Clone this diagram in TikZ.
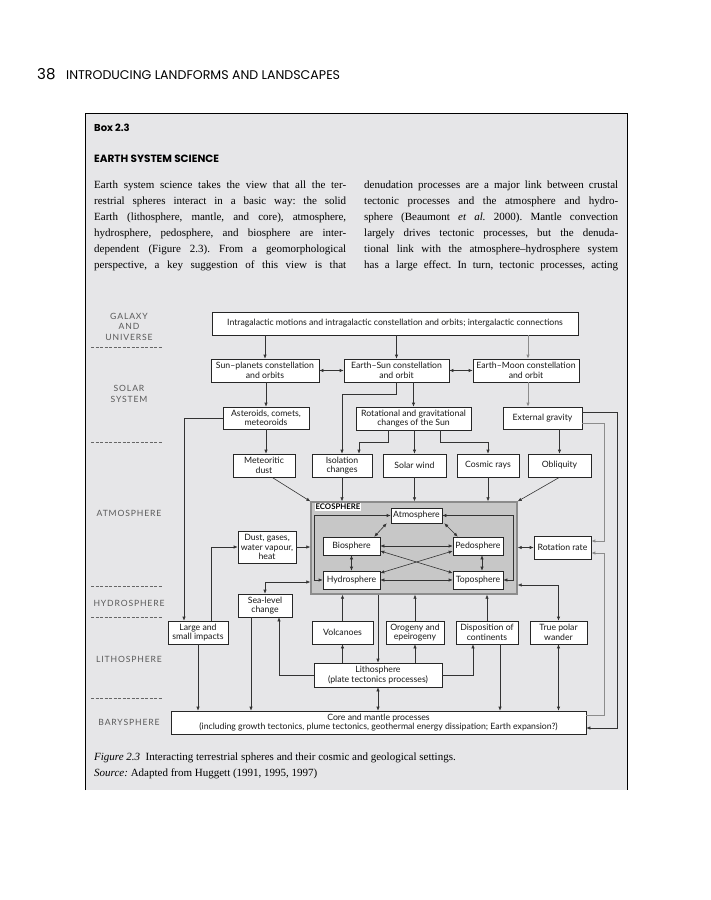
\documentclass[tikz,border=0pt]{standalone}
\usepackage{fontspec}
\setmainfont{Liberation Serif}
\newfontfamily\dgm{Lato}[Ligatures=TeX]
\newfontfamily\dgmsp{Lato}[LetterSpace=10]
\newfontfamily\hdr{Poppins}
\usetikzlibrary{arrows.meta,calc}
\definecolor{boxgray}{HTML}{E6E6E8}
\frenchspacing
\tikzset{
 bx/.style={draw=black!85, fill=white, line width=0.6pt, inner sep=1pt, align=center, font=\dgm\fontsize{8.7}{9.5}\selectfont, text=black!90},
 ln/.style={draw=black!80, line width=0.6pt},
 gln/.style={draw=black!45, line width=0.9pt},
 ar/.style={-{Latex[length=4pt,width=3.4pt]}},
 dar/.style={{Latex[length=4pt,width=3.4pt]}-{Latex[length=4pt,width=3.4pt]}},
 lab/.style={font=\dgmsp\fontsize{8.6}{10.5}\selectfont, text=black!65, align=center},
 dsh/.style={draw=black!60, dash pattern=on 3pt off 1.5pt, line width=0.6pt},
 body/.style={anchor=north west, inner sep=0, font=\fontsize{11}{16}\selectfont}
}
\begin{document}
\begin{tikzpicture}[x=1pt,y=-1pt]
\useasboundingbox (0,0) rectangle (710,900);
\fill[white] (0,0) rectangle (710,900);
% page header
\node[anchor=base west, inner sep=0, font=\hdr\fontsize{15}{15}\selectfont] (pnum) at (37,79) {38};
\node[anchor=base west, inner sep=0, font=\hdr\fontsize{12.6}{13}\selectfont] (phead) at (66,79) {INTRODUCING LANDFORMS AND LANDSCAPES};
% box
\fill[boxgray] (85,113) rectangle (627,790);
\draw[line width=1pt] (85,790) -- (85,113) -- (627,113) -- (627,790);
\node[anchor=base west, inner sep=0, font=\hdr\bfseries\fontsize{10}{11}\selectfont] (boxno) at (94,131) {Box 2.3};
\node[anchor=base west, inner sep=0, font=\hdr\bfseries\fontsize{10.5}{11}\selectfont] (boxtitle) at (94,162) {EARTH SYSTEM SCIENCE};
% body text
\node[body] (colL) at (94,181) {\parbox{252pt}{%
\makebox[252pt][s]{Earth system science takes the view that all the ter-}\\
\makebox[252pt][s]{restrial spheres interact in a basic way: the solid}\\
\makebox[252pt][s]{Earth (lithosphere, mantle, and core), atmosphere,}\\
\makebox[252pt][s]{hydrosphere, pedosphere, and biosphere are inter-}\\
\makebox[252pt][s]{dependent (Figure 2.3). From a geomorphological}\\
\makebox[252pt][s]{perspective, a key suggestion of this view is that}}};
\node[body] (colR) at (364,181) {\parbox{254pt}{%
\makebox[254pt][s]{denudation processes are a major link between crustal}\\
\makebox[254pt][s]{tectonic processes and the atmosphere and hydro-}\\
\makebox[254pt][s]{sphere (Beaumont \textit{et al.} 2000). Mantle convection}\\
\makebox[254pt][s]{largely drives tectonic processes, but the denuda-}\\
\makebox[254pt][s]{tional link with the atmosphere–hydrosphere system}\\
\makebox[254pt][s]{has a large effect. In turn, tectonic processes, acting}}};
% left labels
\node[lab] (lgal) at (129,326.5) {GALAXY\\AND\\UNIVERSE};
\node[lab] (lsol) at (129,394) {SOLAR\\SYSTEM};
\node[lab] (latm) at (129,513) {ATMOSPHERE};
\node[lab] (lhyd) at (129,603) {HYDROSPHERE};
\node[lab] (llit) at (129,659) {LITHOSPHERE};
\node[lab] (lbar) at (129,722) {BARYSPHERE};
\foreach \yy in {347,442,586,617,698} \draw[dsh] (91,\yy) -- (163,\yy);
% boxes
\node[bx, minimum width=366, minimum height=23] (intra) at (395,323.5) {Intragalactic motions and intragalactic constellation and orbits; intergalactic connections};
\node[bx, minimum width=108, minimum height=23] (sunp) at (265,370.5) {Sun–planets constellation\\and orbits};
\node[bx, minimum width=105, minimum height=23] (esun) at (396.5,370.5) {Earth–Sun constellation\\and orbit};
\node[bx, minimum width=106, minimum height=23] (emoon) at (526,370.5) {Earth–Moon constellation\\and orbit};
\node[bx, minimum width=86, minimum height=22] (aster) at (266,418) {Asteroids, comets,\\meteoroids};
\node[bx, minimum width=115, minimum height=23] (rot) at (413.5,418.5) {Rotational and gravitational\\changes of the Sun};
\node[bx, minimum width=79, minimum height=22] (extg) at (542.5,418) {External gravity};
\node[bx, minimum width=62, minimum height=23] (met) at (264,465.5) {Meteoritic\\dust};
\node[bx, minimum width=60, minimum height=23] (iso) at (342,465.5) {Isolation\\changes};
\node[bx, minimum width=63, minimum height=23] (swind) at (414.5,465.5) {Solar wind};
\node[bx, minimum width=62, minimum height=23] (cosmic) at (488,465.5) {Cosmic rays};
\node[bx, minimum width=63, minimum height=23] (obl) at (559.5,465.5) {Obliquity};
% ecosphere
\node[draw=black!45, line width=1.3pt, fill=black!22, minimum width=206, minimum height=92] (eco) at (414,548) {};
\node[anchor=north west, fill=white, inner sep=1pt, font=\dgm\bfseries\fontsize{7.8}{8}\selectfont] (ecol) at ([xshift=4,yshift=-1.5]eco.north west) {ECOSPHERE};
\node[bx, minimum width=51, minimum height=15] (atm) at (416.5,515.5) {Atmosphere};
\node[bx, minimum width=57, minimum height=18] (bio) at (351.5,546) {Biosphere};
\node[bx, minimum width=50, minimum height=18] (pedo) at (478,546) {Pedosphere};
\node[bx, minimum width=57, minimum height=18] (hydro) at (351.5,580) {Hydrosphere};
\node[bx, minimum width=50, minimum height=18] (topo) at (478,580) {Toposphere};
% lower boxes
\node[bx, minimum width=58, minimum height=32] (dust) at (267,547) {Dust, gases,\\water vapour,\\heat};
\node[bx, minimum width=57, minimum height=23] (rotr) at (562.5,547.5) {Rotation rate};
\node[bx, minimum width=54, minimum height=23] (sea) at (265,605.5) {Sea-level\\change};
\node[bx, minimum width=60, minimum height=23] (large) at (198,632.5) {Large and\\small impacts};
\node[bx, minimum width=61, minimum height=23] (volc) at (342.5,632.5) {Volcanoes};
\node[bx, minimum width=58, minimum height=23] (orog) at (415,632.5) {Orogeny and\\epeirogeny};
\node[bx, minimum width=62, minimum height=23] (disp) at (487,632.5) {Disposition of\\continents};
\node[bx, minimum width=57, minimum height=23] (tpw) at (558.5,632.5) {True polar\\wander};
\node[bx, minimum width=128, minimum height=24] (litho) at (378,675) {Lithosphere\\(plate tectonics processes)};
\node[bx, minimum width=415, minimum height=23] (core) at (378.5,722.5) {Core and mantle processes\\(including growth tectonics, plume tectonics, geothermal energy dissipation; Earth expansion?)};
% connectors: top levels
\draw[ln,ar] (sunp.north |- intra.south) -- (sunp.north);
\draw[ln,ar] (esun.north |- intra.south) -- (esun.north);
\draw[gln,ar] ([xshift=2]emoon.north |- intra.south) -- ([xshift=2]emoon.north);
\draw[ln,dar] (sunp.east) -- (esun.west);
\draw[ln,dar] (esun.east) -- (emoon.west);
\draw[ln,ar] (aster.north |- sunp.south) -- (aster.north);
\draw[ln,ar] (rot.north |- esun.south) -- (rot.north);
\draw[ln,ar] (esun.south) -- ++(0,12) -| (iso.north);
\draw[ln,ar] ([xshift=-25.5]rot.south) -- ++(0,12) -| ([xshift=17]iso.north);
\draw[ln,ar] (swind.north |- rot.south) -- (swind.north);
\draw[ln,ar] ([xshift=26.5]rot.south) -- ++(0,12) -| (cosmic.north);
\draw[gln,ar] ([xshift=2]emoon.south) -- ([xshift=2]emoon.south |- extg.north);
\draw[ln,ar] (obl.north |- extg.south) -- (obl.north);
\draw[ln,ar] (aster.west) -| ([xshift=-14]large.north);
\draw[ln,ar] (aster.south) -- (aster.south |- met.north);
% into ecosphere
\draw[ln,ar] ([xshift=8]met.south) -- (eco.north west);
\draw[ln,ar] (iso.south) -- (iso.south |- eco.north);
\draw[ln,ar] (swind.south) -- (swind.south |- eco.north);
\draw[ln,ar] (cosmic.south) -- (cosmic.south |- eco.north);
\draw[ln,ar] (obl.south) -- (eco.north east);
\draw[ln,dar] (rotr.west -| eco.east) -- (rotr.west);
\draw[gln,ar] ([yshift=-5]extg.east) -- ++(22,0) |- ([yshift=6.5]rotr.east);
\draw[ln,ar] ([yshift=6]extg.east) -- ++(35,0) |- ([yshift=-5.5]core.east);
\draw[gln,ar] ([yshift=7.5]core.east) -- ++(18,0) |- ([yshift=-5.5]rotr.east);
\draw[ln,ar] ([xshift=13]large.north) |- (dust.west);
\draw[ln,ar] (dust.east) -- (dust.east -| eco.west);
\draw[ln,dar] (sea.north) |- ([yshift=-34]eco.west);
\draw[ln,ar] (large.south) -- (large.south |- core.north);
\draw[ln,ar] ([xshift=-14]sea.south) -- ([xshift=-14]sea.south |- core.north);
\draw[ln,ar] (litho.west) -| ([xshift=14]sea.south);
\draw[ln,ar] (volc.south |- litho.north) -- (volc.south);
\draw[ln,ar] (volc.north) -- (volc.north |- eco.south);
\draw[ln,ar] (orog.south |- litho.north) -- (orog.south);
\draw[ln,ar] (orog.north) -- (orog.north |- eco.south);
\draw[ln,ar] (eco.south -| litho.north) -- (litho.north);
\draw[ln,ar] (litho.east) -| ([xshift=-14]disp.south);
\draw[ln,ar] (disp.north) -- (disp.north |- eco.south);
\draw[ln,ar] ([xshift=13]disp.south) -- ([xshift=13]disp.south |- core.north);
\draw[ln,dar] (litho.south) -- (litho.south |- core.north);
\draw[ln,dar] ([yshift=-37]eco.east) -| (tpw.north);
\draw[ln,dar] (tpw.south) -- (tpw.south |- core.north);
% inside ecosphere
\draw[ln,dar] ([xshift=-6]bio.north east) -- ([xshift=-4]atm.south west);
\draw[ln,dar] ([xshift=2]atm.south east) -- ([xshift=5]pedo.north west);
\draw[ln,dar] (bio.east) -- (pedo.west);
\draw[ln,dar] (hydro.east) -- (topo.west);
\draw[ln,dar] (bio.south) -- (hydro.north);
\draw[ln,dar] ([xshift=4]pedo.south) -- ([xshift=4]topo.north);
\draw[ln,dar] ([yshift=-5]bio.east) -- ([yshift=7]topo.west);
\draw[ln,dar] ([yshift=7]hydro.east) -- ([yshift=-5]pedo.west);
\draw[ln,dar] (atm.west) -- ++(-76,0) |- (hydro.west);
\draw[ln,dar] (atm.east) -- ++(71,0) |- (topo.east);
% caption
\node[anchor=base west, inner sep=0, font=\fontsize{11}{12}\selectfont] (cap) at (94,760) {\textit{Figure 2.3}\enspace Interacting terrestrial spheres and their cosmic and geological settings.};
\node[anchor=base west, inner sep=0, font=\fontsize{11}{12}\selectfont] (src) at (94,776) {\textit{Source:} Adapted from Huggett (1991, 1995, 1997)};
\end{tikzpicture}
\end{document}
